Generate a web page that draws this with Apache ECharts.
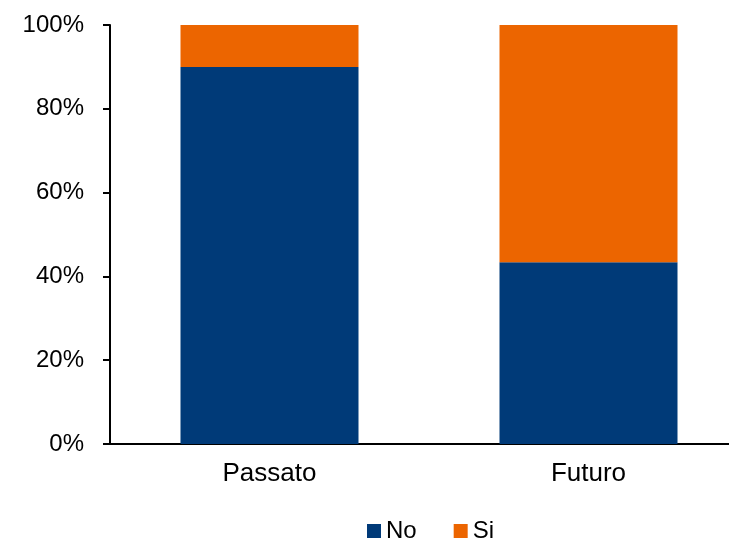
<!DOCTYPE html>
<html><head><meta charset="utf-8">
<script src="https://cdn.jsdelivr.net/npm/echarts@6/dist/echarts.min.js"></script>
<style>html,body{margin:0;padding:0;background:#fff}#c{width:729px;height:540px}</style>
</head><body><div id="c"></div>
<script>
const categories = ['Passato', 'Futuro'];
const noValues = [90.0, 43.4];
const siValues = [10.0, 56.6];
const yTicks = [0, 20, 40, 60, 80, 100];

const chart = echarts.init(document.getElementById('c'));
const font = 'Liberation Sans, Arial, sans-serif';
chart.setOption({
  animation: false,
  grid: { left: 110, top: 25, width: 638, height: 419, containLabel: false, outerBoundsMode: 'none' },
  legend: {
    left: 362, top: 514,
    itemWidth: 14, itemHeight: 14, itemGap: 37,
    icon: 'rect',
    textStyle: { fontFamily: font, fontSize: 24, color: '#000' },
    data: ['No', 'Si']
  },
  xAxis: {
    type: 'category', data: categories,
    axisLine: { lineStyle: { color: '#000', width: 2 } },
    axisTick: { show: false },
    axisLabel: { fontFamily: font, fontSize: 26, color: '#000', margin: 17 }
  },
  yAxis: {
    type: 'value', min: 0, max: 100, interval: 20,
    axisLine: { show: true, lineStyle: { color: '#000', width: 2 } },
    axisTick: { show: true, length: 7, lineStyle: { color: '#000', width: 2 } },
    splitLine: { show: false },
    axisLabel: { fontFamily: font, fontSize: 24, color: '#000', margin: 26,
      formatter: v => yTicks.includes(v) ? v + '%' : '' }
  },
  series: [
    { name: 'No', type: 'bar', stack: 's', data: noValues, barWidth: '55.8%',
      itemStyle: { color: '#003A78' } },
    { name: 'Si', type: 'bar', stack: 's', data: siValues, barWidth: '55.8%',
      itemStyle: { color: '#EC6500' } }
  ]
});
</script></body></html>
